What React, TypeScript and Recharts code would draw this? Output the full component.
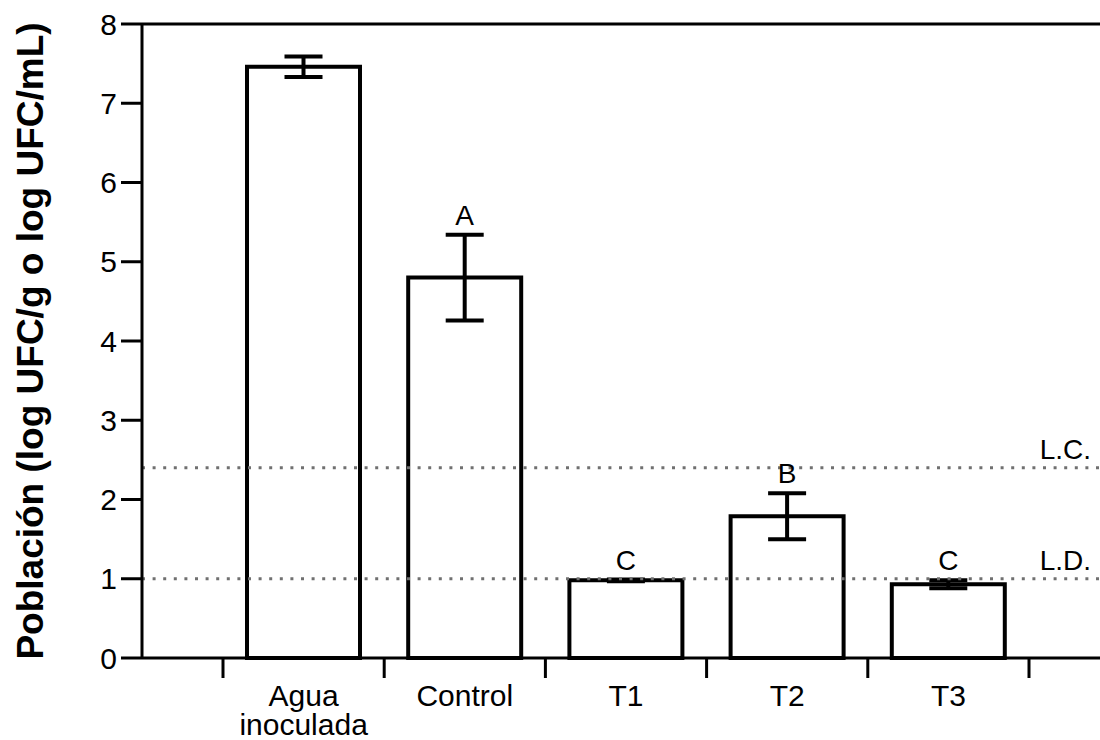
import { BarChart, Bar, XAxis, YAxis, ErrorBar, ReferenceLine, LabelList, Label } from "recharts";

const FONT = "'Liberation Sans', Arial, sans-serif";

// medias y desviaciones
const categories = ["Agua inoculada", "Control", "T1", "T2", "T3"];
const means = [7.46, 4.8, 0.98, 1.79, 0.93];
const errors = [0.13, 0.54, 0.01, 0.29, 0.05];
const letters = ["", "A", "C", "B", "C"];
const yTicks = [0, 1, 2, 3, 4, 5, 6, 7, 8];
const limitLabels = ["L.C.", "L.D."];
const limitValues = [2.4, 1];

const data = categories.map((name, i) => ({ name, mean: means[i], err: errors[i], letter: letters[i] }));

function XTick(props: any) {
  const { x, y, payload, index } = props;
  const half = payload?.offset || 80.6;
  const lines = String(payload.value).split(" ");
  const isLast = index === categories.length - 1;
  return (
    <g>
      <line x1={x - half} x2={x - half} y1={y} y2={y + 20} stroke="#000" strokeWidth={3} />
      {isLast && <line x1={x + half} x2={x + half} y1={y} y2={y + 20} stroke="#000" strokeWidth={3} />}
      <text x={x} y={y + 48} textAnchor="middle" fontSize={30} fontFamily={FONT} fill="#000">
        {lines.map((l, i) => (
          <tspan key={i} x={x} dy={i === 0 ? 0 : 29}>
            {l}
          </tspan>
        ))}
      </text>
    </g>
  );
}

function LetterLabel(props: any) {
  const vb = props.viewBox ?? props;
  const { x, y, width, height } = vb;
  const { value, index } = props;
  if (!value) return null;
  const errPx = (errors[index] * Number(height)) / means[index];
  return (
    <text x={Number(x) + Number(width) / 2} y={Number(y) - errPx - 10} textAnchor="middle" fontSize={28} fontFamily={FONT} fill="#000">
      {value}
    </text>
  );
}

function YLabel(props: any) {
  const vb = props.viewBox || { y: 24, height: 634 };
  const cx = 30;
  const cy = vb.y + vb.height / 2;
  return (
    <text
      x={cx}
      y={cy}
      transform={`rotate(-90 ${cx} ${cy})`}
      textAnchor="middle"
      dominantBaseline="central"
      fontSize={37}
      fontWeight="bold"
      fontFamily={FONT}
      fill="#000"
    >
      Población (log UFC/g o log UFC/mL)
    </text>
  );
}

export default function App() {
  return (
    <div style={{ position: "absolute", left: 0, top: 0, width: 1100, height: 740, background: "#fff" }}>
      <BarChart width={1100} height={740} data={data} margin={{ top: 24, right: 0, bottom: 0, left: 0 }}>
        <XAxis
          dataKey="name"
          height={82}
          padding={{ left: 81, right: 71 }}
          tickSize={0}
          tickMargin={0}
          interval={0}
          axisLine={{ stroke: "#000", strokeWidth: 3 }}
          tickLine={false}
          tick={(p: any) => <XTick {...p} />}
        />
        <YAxis
          domain={[0, 8]}
          ticks={yTicks}
          interval={0}
          width={142}
          tickSize={21}
          tickMargin={4}
          axisLine={{ stroke: "#000", strokeWidth: 3 }}
          tickLine={{ stroke: "#000", strokeWidth: 3 }}
          tick={{ fontSize: 30, fill: "#000", fontFamily: FONT }}
        >
          <Label content={YLabel} />
        </YAxis>
        <ReferenceLine y={8} stroke="#000" strokeWidth={3} />
        <Bar dataKey="mean" fill="#fff" stroke="#000" strokeWidth={4} barSize={113} isAnimationActive={false}>
          <ErrorBar dataKey="err" width={19} strokeWidth={4} stroke="#000" direction="y" isAnimationActive={false} />
          <LabelList dataKey="letter" content={LetterLabel} />
        </Bar>
        {limitValues.map((v, i) => (
          <ReferenceLine
            key={limitLabels[i]}
            y={v}
            stroke="#707070"
            strokeWidth={3}
            strokeDasharray="3 7.6"
            label={{ value: limitLabels[i], position: "insideBottomRight", offset: 9, fontSize: 28, fill: "#000", fontFamily: FONT }}
          />
        ))}
      </BarChart>
    </div>
  );
}
